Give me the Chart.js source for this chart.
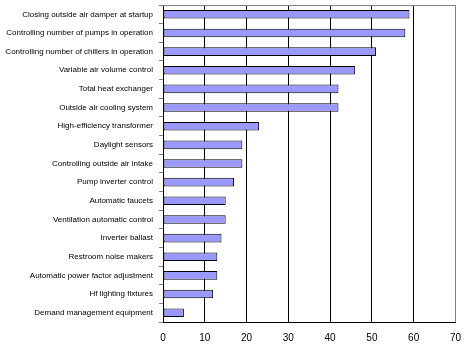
<!DOCTYPE html>
<html>
<head>
<meta charset="utf-8">
<script src="https://cdn.jsdelivr.net/npm/chart.js@4/dist/chart.umd.min.js"></script>
<style>
  html, body { margin: 0; padding: 0; background: #fff; }
  #wrap { width: 471px; height: 351px; }
</style>
</head>
<body>
<div id="wrap"><canvas id="chart"></canvas></div>
<script>
// measures, top to bottom
const categories = [
  "Closing outside air damper at startup",
  "Controlling number of pumps in operation",
  "Controlling number of chillers in operation",
  "Variable air volume control",
  "Total heat exchanger",
  "Outside air cooling system",
  "High-efficiency transformer",
  "Daylight sensors",
  "Controlling outside air intake",
  "Pump inverter control",
  "Automatic faucets",
  "Ventilation automatic control",
  "Inverter ballast",
  "Restroom noise makers",
  "Automatic power factor adjustment",
  "Hf lighting fixtures",
  "Demand management equipment"
];
const values = [59, 58, 51, 46, 42, 42, 23, 19, 19, 17, 15, 15, 14, 13, 13, 12, 5];
const xTicks = [0, 10, 20, 30, 40, 50, 60, 70];

// gray frame line on top of the plot area
const topBorder = {
  id: "topBorder",
  afterDraw(chart) {
    const { ctx, chartArea } = chart;
    ctx.save();
    ctx.strokeStyle = "#808080";
    ctx.lineWidth = 1;
    ctx.beginPath();
    ctx.moveTo(chartArea.left, chartArea.top + 0.5);
    ctx.lineTo(chartArea.right, chartArea.top + 0.5);
    ctx.stroke();
    ctx.restore();
  }
};

new Chart(document.getElementById("chart"), {
  type: "bar",
  data: {
    labels: categories,
    datasets: [{
      data: values,
      backgroundColor: "#9999ff",
      borderColor: "#000000",
      borderWidth: 1,
      borderSkipped: false,
      categoryPercentage: 1,
      barPercentage: 0.46
    }]
  },
  options: {
    indexAxis: "y",
    responsive: true,
    maintainAspectRatio: false,
    animation: false,
    layout: { padding: { top: 5, right: 14, left: 0, bottom: 0 } },
    plugins: { legend: { display: false }, tooltip: { enabled: false } },
    scales: {
      x: {
        min: 0,
        max: 70,
        afterBuildTicks: s => { s.ticks = xTicks.map(v => ({ value: v })); },
        afterFit: s => { s.height = 29; },
        grid: {
          color: c => (c.tick && c.tick.value === 70 ? "#808080" : "#000000"),
          drawTicks: false
        },
        border: { color: "#000000", width: 1 },
        ticks: {
          color: "#000000",
          padding: 10,
          font: { family: "Liberation Sans, Arial, sans-serif", size: 10 }
        }
      },
      y: {
        afterFit: s => { s.width = 163; s.paddingTop = 0; s.paddingBottom = 0; },
        grid: {
          drawOnChartArea: false,
          tickLength: 4,
          color: "#808080",
          offset: true
        },
        border: { color: "#000000", width: 1 },
        ticks: {
          color: "#000000",
          padding: 6,
          autoSkip: false,
          font: { family: "Liberation Sans, Arial, sans-serif", size: 8 }
        }
      }
    }
  },
  plugins: [topBorder]
});
</script>
</body>
</html>
